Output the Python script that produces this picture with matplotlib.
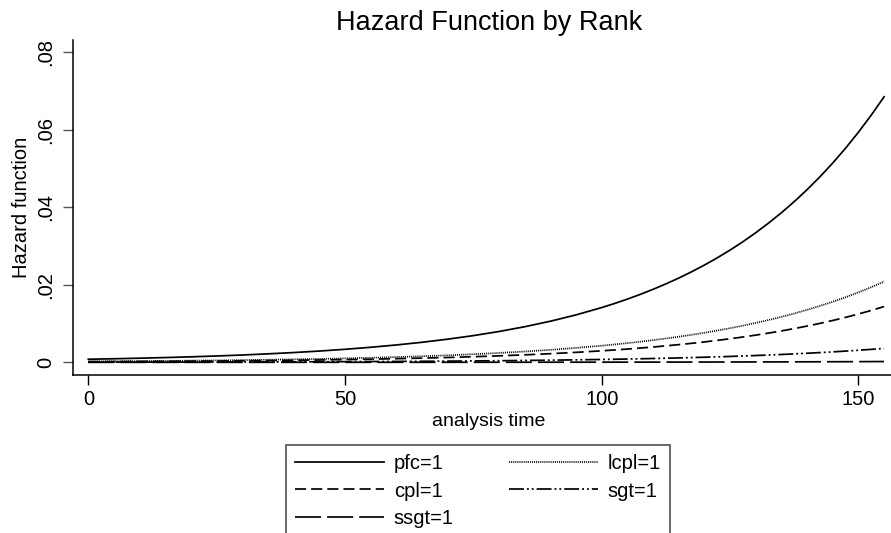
import matplotlib
matplotlib.use("Agg")
import matplotlib.pyplot as plt

plt.rcParams['font.family'] = ['Liberation Sans', 'DejaVu Sans']

# analysis time grid (every 5 units, every 2.5 where the curves bend more)
time = [0, 5, 10, 15, 20, 25, 30, 35, 40, 45, 50, 55, 60, 65, 70, 75,
        80, 85, 90, 95, 100, 102.5, 105, 107.5, 110, 112.5, 115, 117.5, 120,
        122.5, 125, 127.5, 130, 132.5, 135, 137.5, 140, 142.5, 145, 147.5,
        150, 152.5, 155]

# hazard estimates
pfc = [0.00080, 0.00092, 0.00107, 0.00123, 0.00142, 0.00164, 0.00189, 0.00219,
       0.00252, 0.00291, 0.00336, 0.00388, 0.00448, 0.00517, 0.00597, 0.00689,
       0.00795, 0.00918, 0.01060, 0.01223, 0.01412,
       0.01517, 0.01630, 0.01751, 0.01882, 0.02022, 0.02172, 0.02334, 0.02507,
       0.02694, 0.02894, 0.03109, 0.03341, 0.03590, 0.03856, 0.04143, 0.04451,
       0.04782, 0.05138, 0.05520, 0.05931, 0.06372, 0.06846]
lcpl = [0.00024, 0.00028, 0.00033, 0.00037, 0.00043, 0.00050, 0.00057, 0.00067,
        0.00077, 0.00088, 0.00102, 0.00118, 0.00136, 0.00157, 0.00181, 0.00209,
        0.00242, 0.00279, 0.00322, 0.00372, 0.00429,
        0.00461, 0.00496, 0.00532, 0.00572, 0.00615, 0.00660, 0.00710, 0.00762,
        0.00819, 0.00880, 0.00945, 0.01016, 0.01091, 0.01172, 0.01259, 0.01353,
        0.01454, 0.01562, 0.01678, 0.01803, 0.01937, 0.02081]
cpl = [0.00017, 0.00019, 0.00022, 0.00026, 0.00030, 0.00034, 0.00040, 0.00046,
       0.00053, 0.00061, 0.00071, 0.00081, 0.00094, 0.00109, 0.00125, 0.00145,
       0.00167, 0.00193, 0.00223, 0.00257, 0.00297,
       0.00319, 0.00342, 0.00368, 0.00395, 0.00425, 0.00456, 0.00490, 0.00526,
       0.00566, 0.00608, 0.00653, 0.00702, 0.00754, 0.00810, 0.00870, 0.00935,
       0.01004, 0.01079, 0.01159, 0.01246, 0.01338, 0.01438]
sgt = [0.000042, 0.000048, 0.000056, 0.000065, 0.000075, 0.000086, 0.000099, 0.000115,
       0.000132, 0.000153, 0.000176, 0.000204, 0.000235, 0.000271, 0.000313, 0.000362,
       0.000417, 0.000482, 0.000557, 0.000642, 0.000741,
       0.000796, 0.000856, 0.000919, 0.000988, 0.001062, 0.001140, 0.001225, 0.001316,
       0.001414, 0.001519, 0.001632, 0.001754, 0.001885, 0.002024, 0.002175, 0.002337,
       0.002511, 0.002697, 0.002898, 0.003114, 0.003345, 0.003594]
ssgt = [0.0000024, 0.0000028, 0.0000032, 0.0000037, 0.0000043, 0.0000049, 0.0000057, 0.0000066,
        0.0000076, 0.0000087, 0.0000101, 0.0000116, 0.0000134, 0.0000155, 0.0000179, 0.0000207,
        0.0000239, 0.0000275, 0.0000318, 0.0000367, 0.0000424,
        0.0000455, 0.0000489, 0.0000525, 0.0000565, 0.0000607, 0.0000652, 0.0000700, 0.0000752,
        0.0000808, 0.0000868, 0.0000933, 0.0001002, 0.0001077, 0.0001157, 0.0001243, 0.0001335,
        0.0001435, 0.0001541, 0.0001656, 0.0001779, 0.0001912, 0.0002054]

x_ticks = [0, 50, 100, 150]
y_ticks = [0, 0.02, 0.04, 0.06, 0.08]
y_tick_labels = ["0", ".02", ".04", ".06", ".08"]

fig = plt.figure(figsize=(8.91, 5.33), dpi=100)
ax = fig.add_axes([0.0823, 0.2964, 0.9334, 0.6285])

lw = 1.25
ax.plot(time, pfc, color="black", linewidth=lw, linestyle="-", label="pfc=1")
ax.plot(time, cpl, color="black", linewidth=lw, dashes=(6.4, 2.9), label="cpl=1")
ax.plot(time, ssgt, color="black", linewidth=lw, dashes=(15.0, 3.5), label="ssgt=1")
ax.plot(time, lcpl, color="black", linewidth=lw, dashes=(0.6, 0.6), label="lcpl=1")
ax.plot(time, sgt, color="black", linewidth=lw,
        dashes=(8.6, 1.7, 1.1, 1.7, 1.1, 1.7), label="sgt=1")

ax.set_xlim(-2.92, 159.08)
ax.set_ylim(-0.00327, 0.0831)

ax.spines["top"].set_visible(False)
ax.spines["right"].set_visible(False)
ax.spines["left"].set_linewidth(1.1)
ax.spines["bottom"].set_linewidth(1.1)

ax.set_xticks(x_ticks)
ax.set_xticklabels([str(t) for t in x_ticks])
ax.set_yticks(y_ticks)
ax.set_yticklabels(y_tick_labels, rotation=90, va="center")
ax.tick_params(axis="x", direction="out", length=7, width=1.0, pad=3.5, labelsize=14.5)
ax.tick_params(axis="y", direction="out", length=7, width=1.0, pad=6,
               labelsize=14.5, color="#555555")

ax.set_xlabel("analysis time", fontsize=14, labelpad=3)
ax.set_ylabel("Hazard function", fontsize=14.5, labelpad=3.5)
ax.set_title("Hazard Function by Rank", fontsize=19.5, pad=7)

leg = fig.legend(loc="upper left", bbox_to_anchor=(286 / 891, 1 - 445 / 533),
                 borderaxespad=0, ncol=2, fontsize=14.5, frameon=True, fancybox=False,
                 handlelength=4.4, handletextpad=0.5, columnspacing=2.75,
                 labelspacing=0.42, borderpad=0.45)
leg.get_frame().set_edgecolor("#333333")
leg.get_frame().set_linewidth(1.3)

fig.savefig("out.png", dpi=100)
